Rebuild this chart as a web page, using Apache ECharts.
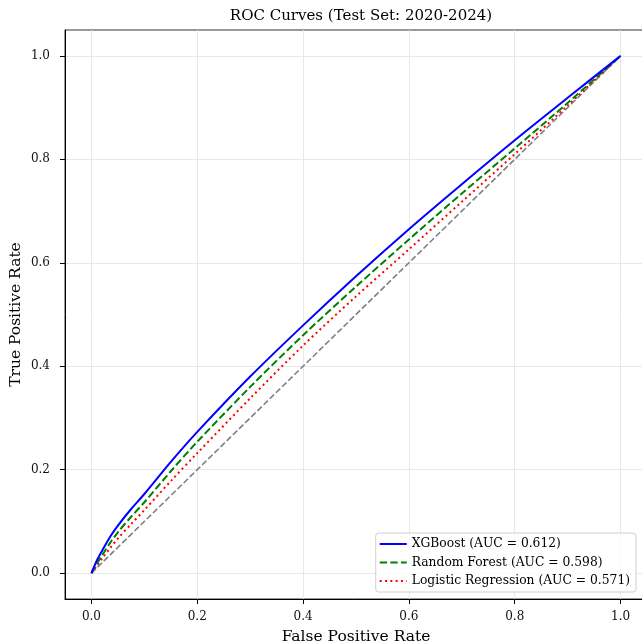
<!DOCTYPE html>
<html>
<head>
<meta charset="utf-8">
<script src="https://cdn.jsdelivr.net/npm/echarts@6/dist/echarts.min.js"></script>
<style>
  html, body { margin: 0; padding: 0; background: #fff; }
  #chart { width: 642px; height: 644px; }
</style>
</head>
<body>
<div id="chart"></div>
<script>
  // false positive rates shared by the curves
  var fpr = [0, 0.01, 0.02, 0.035, 0.05, 0.075, 0.1, 0.15, 0.2, 0.3, 0.4, 0.5, 0.6, 0.7, 0.8, 0.9, 1];
  var tprXgb = [0, 0.024, 0.043, 0.070, 0.092, 0.124, 0.153, 0.215, 0.273, 0.380, 0.479, 0.574, 0.665, 0.752, 0.837, 0.919, 1];
  var tprRf = [0, 0.018, 0.034, 0.058, 0.079, 0.109, 0.137, 0.197, 0.254, 0.360, 0.460, 0.554, 0.645, 0.734, 0.821, 0.909, 1];
  var tprLr = [0, 0.014, 0.028, 0.048, 0.067, 0.095, 0.122, 0.178, 0.232, 0.338, 0.440, 0.535, 0.626, 0.718, 0.810, 0.904, 1];
  var diag = [[0, 0], [1, 1]];
  var tickVals = [0, 0.2, 0.4, 0.6, 0.8, 1.0];
  var names = ['XGBoost (AUC = 0.612)', 'Random Forest (AUC = 0.598)', 'Logistic Regression (AUC = 0.571)'];

  function pairs(ys) {
    return fpr.map(function (x, i) { return [x, ys[i]]; });
  }

  var font = 'DejaVu Serif';
  var chart = echarts.init(document.getElementById('chart'));

  function axis(name, gap, margin) {
    return {
      type: 'value',
      min: -0.05,
      max: 1.05,
      name: name,
      nameLocation: 'middle',
      nameGap: gap,
      nameMoveOverlap: false,
      nameTextStyle: { fontFamily: font, fontSize: 15.5, color: '#000' },
      axisLine: { show: true, onZero: false, lineStyle: { color: '#000', width: 1 } },
      axisTick: { show: true, length: 5, inside: false, customValues: tickVals, lineStyle: { color: '#000' } },
      axisLabel: {
        customValues: tickVals,
        fontFamily: font, fontSize: 12, color: '#111', margin: margin,
        formatter: function (v) { return v.toFixed(1); }
      },
      splitLine: { show: true, lineStyle: { color: '#e8e8e8', width: 1 } }
    };
  }

  chart.setOption({
    backgroundColor: '#fff',
    animation: false,
    title: {
      text: 'ROC Curves (Test Set: 2020-2024)',
      left: 356,
      textAlign: 'center',
      top: 4,
      textStyle: { fontFamily: font, fontSize: 15, fontWeight: 'normal', color: '#000' }
    },
    grid: {
      left: 65, right: -5, top: 30, bottom: 45, containLabel: false, outerBoundsMode: 'none',
      show: true, borderColor: '#333', borderWidth: 1, backgroundColor: 'transparent'
    },
    xAxis: axis('False Positive Rate', 30, 12),
    yAxis: axis('True Positive Rate', 41, 15),
    legend: {
      orient: 'vertical',
      right: 6,
      bottom: 52,
      itemWidth: 27,
      itemHeight: 8,
      itemGap: 6.5,
      padding: [5, 6, 5, 3],
      backgroundColor: 'rgba(255,255,255,0.8)',
      borderColor: '#d0d0d0',
      borderWidth: 1,
      borderRadius: 3,
      itemStyle: { opacity: 0, borderWidth: 0 },
      textStyle: { fontFamily: font, fontSize: 12.3, color: '#000' },
      data: names
    },
    series: [
      {
        name: names[0], type: 'line', data: pairs(tprXgb), smooth: 0.3, symbol: 'none', z: 5,
        lineStyle: { color: '#0000ff', width: 2 }, itemStyle: { color: '#0000ff' }
      },
      {
        name: names[1], type: 'line', data: pairs(tprRf), smooth: 0.3, symbol: 'none', z: 4,
        lineStyle: { color: '#008000', width: 2, type: [7.4, 3.2] }, itemStyle: { color: '#008000' }
      },
      {
        name: names[2], type: 'line', data: pairs(tprLr), smooth: 0.3, symbol: 'none', z: 3,
        lineStyle: { color: '#ff0000', width: 2, type: [2, 3.3] }, itemStyle: { color: '#ff0000' }
      },
      {
        name: 'diag', type: 'line', data: diag, symbol: 'none', z: 2,
        lineStyle: { color: '#808080', width: 1.6, type: [6, 2.6] }, itemStyle: { color: '#808080' }
      }
    ]
  });
</script>
</body>
</html>
